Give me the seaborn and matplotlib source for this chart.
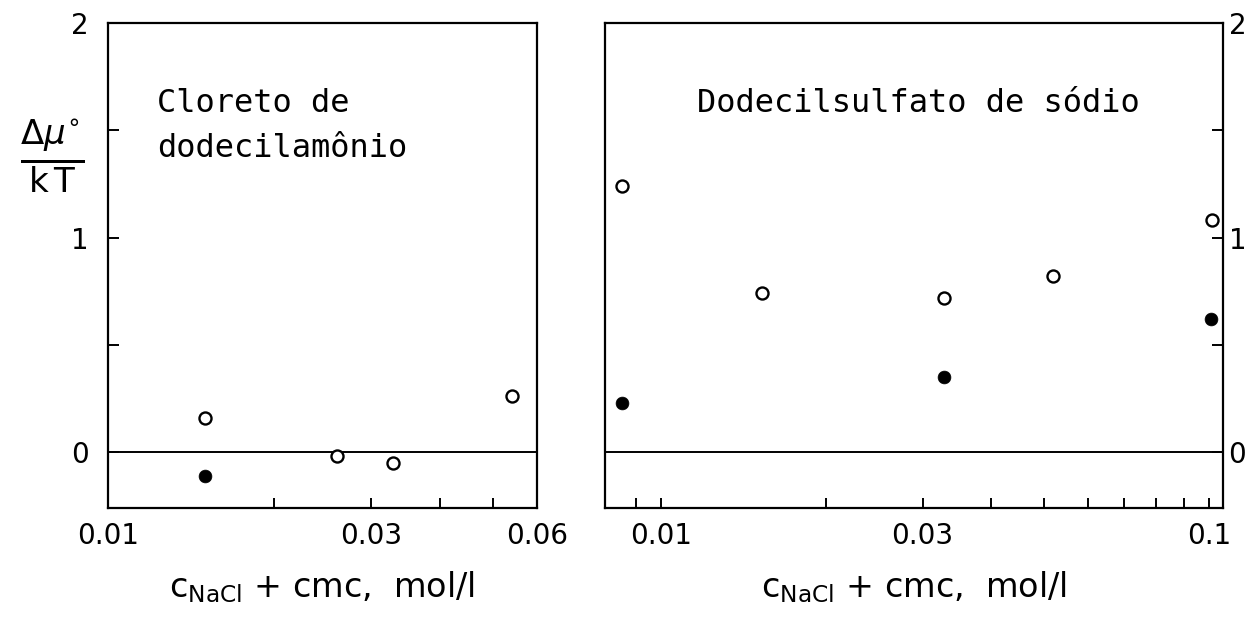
import matplotlib
matplotlib.use("Agg")
import matplotlib.pyplot as plt
import seaborn as sns
import pandas as pd
from matplotlib.ticker import NullFormatter

# ---- data ----
left_open_x = [0.0150, 0.0260, 0.0329, 0.0541]
left_open_y = [0.16, -0.02, -0.05, 0.26]
left_filled_x = [0.0150]
left_filled_y = [-0.11]

right_open_x = [0.00849, 0.01528, 0.0328, 0.0519, 0.1011]
right_open_y = [1.24, 0.74, 0.72, 0.82, 1.08]
right_filled_x = [0.00849, 0.0328, 0.1010]
right_filled_y = [0.23, 0.35, 0.62]

left_major = [0.01, 0.03, 0.06]
left_major_labels = ["0.01", "0.03", "0.06"]
left_minor = [0.02, 0.04, 0.05]
right_major = [0.01, 0.03, 0.1]
right_major_labels = ["0.01", "0.03", "0.1"]
right_minor = [0.009, 0.02, 0.04, 0.05, 0.06, 0.07, 0.08, 0.09]
y_ticks = [0, 0.5, 1, 1.5, 2]
y_labels = ["0", "", "1", "", "2"]

left_title = "Cloreto de\ndodecilamônio"
right_title = "Dodecilsulfato de sódio"
xlabel = r"c$_{\mathrm{NaCl}}$ + cmc,  mol/l"
ylabel = r"$\frac{\Delta\mu^{\circ}}{\mathrm{k\,T}}$"

sns.set_style("white")
plt.rcParams["font.family"] = ["DejaVu Sans"]
plt.rcParams["mathtext.fontset"] = "dejavusans"
for k in ["text.color", "axes.labelcolor", "xtick.color", "ytick.color",
          "axes.edgecolor"]:
    plt.rcParams[k] = "black"

fig = plt.figure(figsize=(12.45, 6.17), dpi=100)
axL = fig.add_axes([108 / 1245, 1 - 508 / 617, 429 / 1245, 485 / 617])
axR = fig.add_axes([605 / 1245, 1 - 508 / 617, 618 / 1245, 485 / 617])


def draw(ax, ox, oy, fx, fy):
    sns.scatterplot(x=ox, y=oy, ax=ax, marker="o", s=75, facecolor="white",
                    edgecolor="black", linewidth=1.7, zorder=3)
    sns.scatterplot(x=fx, y=fy, ax=ax, marker="o", s=85, color="black",
                    edgecolor="black", linewidth=0.5, zorder=3)
    ax.axhline(0, color="black", lw=1.4, zorder=2)
    ax.set_xscale("log")
    ax.set_ylim(-0.26, 2.0)
    for sp in ax.spines.values():
        sp.set_visible(True)
        sp.set_linewidth(1.6)
        sp.set_color("black")
    ax.set_yticks(y_ticks)
    ax.set_yticklabels(y_labels)
    ax.xaxis.set_minor_formatter(NullFormatter())
    ax.tick_params(axis="x", which="both", direction="in", length=7, width=1.4,
                   bottom=True, top=False, labelsize=20, pad=10,
                   colors="black")
    ax.tick_params(axis="y", direction="in", length=8, width=1.4, labelsize=20,
                   colors="black")
    ax.set_xlabel(xlabel, fontsize=24, labelpad=14, color="black")
    ax.set_ylabel("")


draw(axL, left_open_x, left_open_y, left_filled_x, left_filled_y)
axL.set_xlim(0.0100, 0.0600)
axL.set_xticks(left_major, left_major_labels)
axL.set_xticks(left_minor, minor=True)
axL.xaxis.set_minor_formatter(NullFormatter())
axL.tick_params(axis="y", left=True, right=False, labelleft=True, pad=14)

draw(axR, right_open_x, right_open_y, right_filled_x, right_filled_y)
axR.set_xlim(0.0079, 0.106)
axR.set_xticks(right_major, right_major_labels)
axR.set_xticks(right_minor, minor=True)
axR.xaxis.set_minor_formatter(NullFormatter())
axR.yaxis.tick_right()
axR.tick_params(axis="y", left=False, right=True, labelleft=False,
                labelright=True, pad=4)

mono = "DejaVu Sans Mono"
fig.text(157 / 1245, 1 - 126 / 617, left_title, fontsize=23, family=mono,
         va="center", ha="left", linespacing=1.6, color="black")
fig.text(697 / 1245, 1 - 103 / 617, right_title, fontsize=23, family=mono,
         va="center", ha="left", color="black")

fig.text(52 / 1245, 1 - 156 / 617, ylabel, fontsize=35, ha="center",
         va="center", color="black")

fig.savefig("out.png", dpi=100, facecolor="white")
